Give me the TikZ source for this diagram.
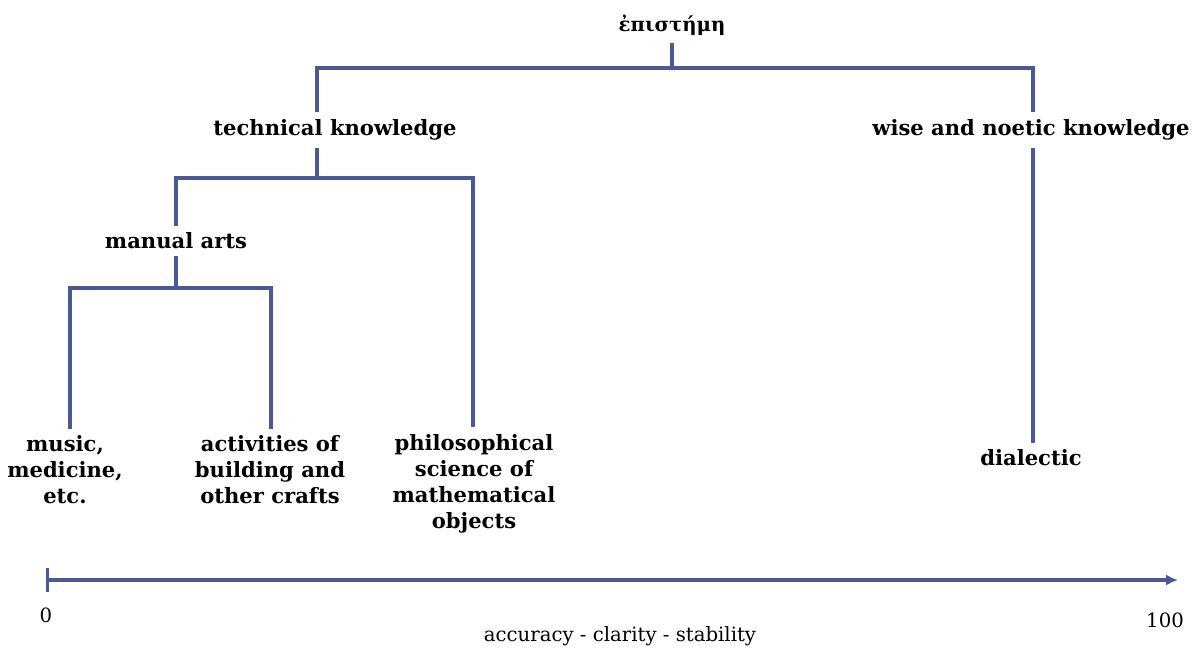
\documentclass[tikz,border=0pt]{standalone}
\usepackage{fontspec}
\setmainfont{DejaVu Serif}
\usetikzlibrary{arrows.meta}
\definecolor{linkblue}{RGB}{74,88,150}
\begin{document}
\begin{tikzpicture}[x=0.025cm,y=-0.025cm,
    every node/.style={font=\bfseries\fontsize{15}{18.5}\selectfont, align=center, inner sep=5pt},
    plain/.style={font=\fontsize{14}{16}\selectfont},
    link/.style={draw=linkblue, line width=2.3pt}]
  \useasboundingbox (0,0) rectangle (1202,653);
  \draw
    (672,25) node[font=\bfseries\fontsize{14}{16}\selectfont] (episteme){ἐπιστήμη}
    (335,130) node (technical){technical knowledge}
    (1031,130) node (wise){wise and noetic knowledge}
    (176,241) node (manual){manual arts}
    (65,470) node (music){music,\\medicine,\\etc.}
    (270,470) node (crafts){activities of\\building and\\other crafts}
    (474,484) node (mathematical){philosophical\\science of\\mathematical\\objects}
    (1031,458) node (dialectic){dialectic}
    (46,615) node[plain] (zero){0}
    (1165,620) node[plain] (hundred){100}
    (620,636) node[plain] (scale){accuracy - clarity - stability};
  \coordinate (top-left) at (317,68);
  \coordinate (top-right) at (1033,68);
  \coordinate (tech-left) at (178,178);
  \coordinate (tech-right) at (473,178);
  \coordinate (manual-left) at (70,288);
  \coordinate (manual-right) at (271,288);
  \coordinate (axis-start) at (46,580);
  \coordinate (axis-end) at (1178,580);
  \begin{scope}[link]
    \draw (episteme.south) -- (episteme.south |- top-left);
    \draw (technical.north -| top-left) -- (top-left) -- (top-right) -- (wise.north -| top-right);
    \draw (technical.south -| top-left) -- (top-left |- tech-left);
    \draw (manual.north) -- (manual.north |- tech-left) -- (tech-left) -- (tech-right) -- (tech-right |- mathematical.north);
    \draw (manual.south) -- (manual.south |- manual-left);
    \draw (music.north -| manual-left) -- (manual-left) -- (manual-right) -- (crafts.north -| manual-right);
    \draw (wise.south -| top-right) -- (dialectic.north -| top-right);
    \draw[{Bar[width=0.6cm]}-{Latex[length=0.3cm,width=0.28cm]}] (axis-start) -- (axis-end);
  \end{scope}
\end{tikzpicture}
\end{document}
